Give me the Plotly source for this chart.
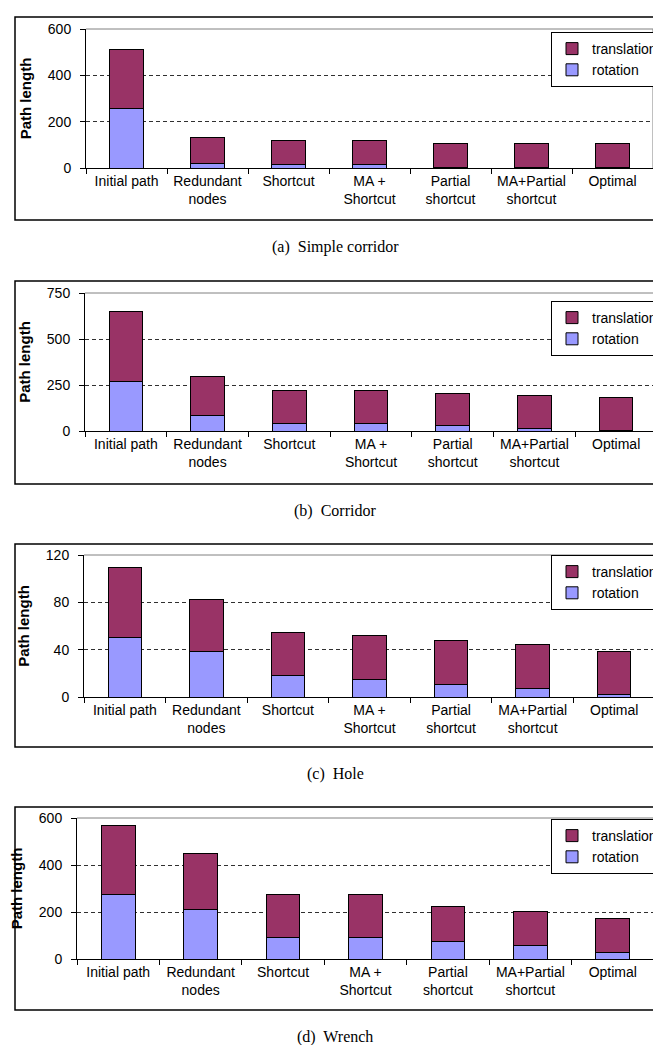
import plotly.graph_objects as go

# ---------------- data ----------------
categories = ["Initial path", "Redundant nodes", "Shortcut", "MA + Shortcut",
              "Partial shortcut", "MA+Partial shortcut", "Optimal"]
tick_labels = ["Initial path", "Redundant<br>nodes", "Shortcut", "MA +<br>Shortcut",
               "Partial<br>shortcut", "MA+Partial<br>shortcut", "Optimal"]

rotation_a = [257, 19, 14, 14, 1, 1, 0.5]
translation_a = [255, 113, 105, 105, 104, 104, 104.5]

rotation_b = [269, 85, 43, 43, 28, 15, 5]
translation_b = [380, 213, 179, 179, 174, 176, 176]

rotation_c = [50.4, 38.8, 17.8, 15.0, 10.8, 7.1, 1.8]
translation_c = [59.1, 43.2, 36.8, 37.0, 36.7, 37.1, 37.0]

rotation_d = [273, 210, 92, 92, 75, 59, 29]
translation_d = [295, 239, 181, 181, 147, 144, 145]

captions = ["(a)  Simple corridor", "(b)  Corridor", "(c)  Hole", "(d)  Wrench"]
y_max = [600, 750, 120, 600]
y_step = [200, 250, 40, 200]

rotations = [rotation_a, rotation_b, rotation_c, rotation_d]
translations = [translation_a, translation_b, translation_c, translation_d]

# ---------------- geometry (pixels) ----------------
W, H = 661, 1045
def fx(px):
    return px / W
def fy(py):
    return 1 - py / H

geom = [
    dict(x0=78, x1=645, yb=160, yt=21, bt=9, bb=212, lx=543, ly=24),
    dict(x0=77, x1=649, yb=423, yt=285, bt=273, bb=476, lx=543, ly=293),
    dict(x0=76, x1=647, yb=689, yt=547, bt=536, bb=739, lx=543, ly=547),
    dict(x0=69, x1=646, yb=951, yt=810, bt=799, bb=1002, lx=543, ly=811),
]

ROT_COLOR = "#9999FF"
TRA_COLOR = "#993366"
FONT = "Liberation Sans, Arial, sans-serif"

fig = go.Figure()
layout = dict(
    width=W, height=H, autosize=False,
    margin=dict(l=0, r=0, t=0, b=0, autoexpand=False),
    paper_bgcolor="white", plot_bgcolor="white",
    barmode="stack", bargap=0.59,
    font=dict(family=FONT, size=14, color="black"),
    shapes=[], annotations=[],
)

for i in range(4):
    g = geom[i]
    sfx = "" if i == 0 else str(i + 1)
    xa, ya = "x" + sfx, "y" + sfx
    leg = "legend" + sfx
    fig.add_trace(go.Bar(
        x=categories, y=rotations[i], name="rotation",
        marker=dict(color=ROT_COLOR, line=dict(color="black", width=1)),
        xaxis=xa, yaxis=ya, legend=leg, hoverinfo="skip"))
    fig.add_trace(go.Bar(
        x=categories, y=translations[i], name="translation",
        marker=dict(color=TRA_COLOR, line=dict(color="black", width=1)),
        xaxis=xa, yaxis=ya, legend=leg, hoverinfo="skip"))

    layout["xaxis" + sfx] = dict(
        domain=[fx(g["x0"]), fx(g["x1"])], anchor=ya,
        type="category", categoryorder="array", categoryarray=categories,
        tickvals=categories, ticktext=tick_labels,
        range=[-0.5, len(categories) - 0.5],
        tickson="boundaries", ticks="outside", ticklen=5, tickwidth=1, tickcolor="black",
        showline=True, linecolor="black", linewidth=1, showgrid=False,
        tickfont=dict(family=FONT, size=14, color="black"), fixedrange=True,
    )
    layout["yaxis" + sfx] = dict(
        domain=[fy(g["yb"]), fy(g["yt"])], anchor=xa,
        range=[0, y_max[i]], tick0=0, dtick=y_step[i],
        ticks="outside", ticklen=5, tickwidth=1, tickcolor="black",
        ticklabelstandoff=6,
        showline=True, linecolor="black", linewidth=1,
        showgrid=True, gridcolor="#303030", gridwidth=1, griddash="4px,3px",
        zeroline=False,
        tickfont=dict(family=FONT, size=14, color="black"),
        title=dict(text="<b>Path length</b>", font=dict(family=FONT, size=15, color="black"),
                   standoff=12),
        fixedrange=True,
    )
    layout[leg] = dict(
        x=fx(g["lx"]), y=fy(g["ly"]), xanchor="left", yanchor="top",
        xref="paper", yref="paper",
        bgcolor="white", bordercolor="black", borderwidth=1,
        traceorder="reversed", itemwidth=30, tracegroupgap=0,
        font=dict(family=FONT, size=14, color="black"),
    )
    layout["shapes"].append(dict(type="line", xref=xa + " domain", yref=ya + " domain",
                                 x0=0, x1=1, y0=1, y1=1, layer="above",
                                 line=dict(color="#808080", width=1)))
    layout["shapes"].append(dict(type="line", xref=xa + " domain", yref=ya + " domain",
                                 x0=1, x1=1, y0=0, y1=1, layer="above",
                                 line=dict(color="#808080", width=1)))
    layout["shapes"].append(dict(type="rect", xref="paper", yref="paper",
                                 x0=fx(7), x1=fx(675), y0=fy(g["bb"]), y1=fy(g["bt"]),
                                 layer="below", line=dict(color="black", width=1.5)))
    layout["annotations"].append(dict(
        text=captions[i], xref="paper", yref="paper",
        x=fx(327), y=fy(g["bb"] + 27), xanchor="center", yanchor="middle",
        showarrow=False, font=dict(family="Liberation Serif, Times New Roman, serif", size=16,
                                   color="black")))

fig.update_layout(**layout)
fig.write_html("out.html")
